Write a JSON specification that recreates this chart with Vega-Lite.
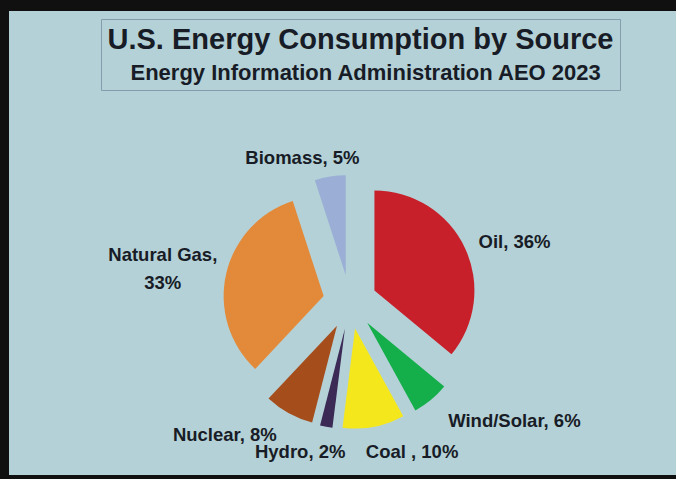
{
  "$schema": "https://vega.github.io/schema/vega-lite/v6.json",
  "background": "#101010",
  "padding": {"top": 11, "left": 9, "right": 0, "bottom": 4},
  "autosize": {"type": "none"},
  "width": 667,
  "height": 464,
  "view": {"fill": "#b4d1d7", "stroke": null},
  "config": {"font": "Liberation Sans"},
  "data": {
    "values": [
      {"source": "Oil", "pct": 36, "rank": 1, "label": "Oil, 36%"},
      {"source": "Wind/Solar", "pct": 6, "rank": 2, "label": "Wind/Solar, 6%"},
      {"source": "Coal", "pct": 10, "rank": 3, "label": "Coal , 10%"},
      {"source": "Hydro", "pct": 2, "rank": 4, "label": "Hydro, 2%"},
      {"source": "Nuclear", "pct": 8, "rank": 5, "label": "Nuclear, 8%"},
      {"source": "Natural Gas", "pct": 33, "rank": 6, "label": "Natural Gas,\n33%"},
      {"source": "Biomass", "pct": 5, "rank": 7, "label": "Biomass, 5%"}
    ]
  },
  "transform": [
    {"window": [{"op": "sum", "field": "pct", "as": "cum"}], "sort": [{"field": "rank", "order": "ascending"}], "frame": [null, 0]},
    {"calculate": "datum.cum - datum.pct", "as": "start"},
    {"calculate": "datum.cum - datum.pct / 2", "as": "mid"},
    {"calculate": "sin(2 * PI * datum.mid / 100)", "as": "ex"},
    {"calculate": "cos(2 * PI * datum.mid / 100)", "as": "ey"}
  ],
  "encoding": {
    "x": {"field": "ex", "type": "quantitative", "scale": {"domain": [-1, 1], "range": [314, 368], "nice": false, "zero": false}, "axis": null},
    "y": {"field": "ey", "type": "quantitative", "scale": {"domain": [-1, 1], "range": [318, 264], "nice": false, "zero": false}, "axis": null}
  },
  "layer": [
    {
      "mark": {"type": "arc", "outerRadius": 100, "innerRadius": 0, "stroke": null},
      "encoding": {
        "theta": {"field": "start", "type": "quantitative", "stack": null, "scale": {"domain": [0, 100]}},
        "theta2": {"field": "cum"},
        "color": {
          "field": "source", "type": "nominal",
          "scale": {
            "domain": ["Oil", "Wind/Solar", "Coal", "Hydro", "Nuclear", "Natural Gas", "Biomass"],
            "range": ["#c8202a", "#14ae4a", "#f4e81c", "#3a2a55", "#a54e1c", "#e38a3a", "#9aaed6"]
          },
          "legend": {
            "orient": "none", "legendX": 92, "legendY": 8,
            "title": "U.S. Energy Consumption by Source",
            "titleFont": "Liberation Sans", "titleFontSize": 29, "titleFontWeight": "bold", "titleColor": "#181c26",
            "titleAnchor": "middle", "titlePadding": 7, "titleLimit": 1000,
            "values": ["Oil"],
            "labelExpr": "'Energy Information Administration AEO 2023'",
            "labelFont": "Liberation Sans", "labelFontSize": 22, "labelFontWeight": "bold", "labelColor": "#181c26",
            "labelLimit": 1000, "labelOffset": -10,
            "symbolSize": 0, "symbolOpacity": 0, "symbolStrokeWidth": 0,
            "strokeColor": "#849cab", "padding": 6.5
          }
        }
      }
    },
    {
      "transform": [{"filter": "datum.source == 'Oil'"}],
      "mark": {"type": "text", "align": "left", "baseline": "middle", "radius": 115, "font": "Liberation Sans", "fontWeight": "bold", "fontSize": 18.5, "color": "#181c26"},
      "encoding": {"theta": {"field": "mid", "type": "quantitative", "stack": null, "scale": {"domain": [0, 100]}}, "text": {"field": "label"}}
    },
    {
      "transform": [{"filter": "datum.source == 'Wind/Solar'"}],
      "mark": {"type": "text", "align": "left", "baseline": "middle", "radius": 127, "font": "Liberation Sans", "fontWeight": "bold", "fontSize": 18.5, "color": "#181c26"},
      "encoding": {"theta": {"field": "mid", "type": "quantitative", "stack": null, "scale": {"domain": [0, 100]}}, "text": {"field": "label"}}
    },
    {
      "transform": [{"filter": "datum.source == 'Nuclear'"}],
      "mark": {"type": "text", "align": "right", "baseline": "middle", "radius": 125, "font": "Liberation Sans", "fontWeight": "bold", "fontSize": 18.5, "color": "#181c26"},
      "encoding": {"theta": {"field": "mid", "type": "quantitative", "stack": null, "scale": {"domain": [0, 100]}}, "text": {"field": "label"}}
    },
    {
      "transform": [{"filter": "datum.source == 'Natural Gas'"}],
      "mark": {"type": "text", "align": "center", "baseline": "middle", "radius": 166, "thetaOffset": 0.03, "lineBreak": "\n", "lineHeight": 28, "font": "Liberation Sans", "fontWeight": "bold", "fontSize": 18.5, "color": "#181c26"},
      "encoding": {"theta": {"field": "mid", "type": "quantitative", "stack": null, "scale": {"domain": [0, 100]}}, "text": {"field": "label"}}
    },
    {
      "transform": [{"filter": "datum.source == 'Coal'"}],
      "mark": {"type": "text", "align": "center", "baseline": "middle", "radius": 136, "thetaOffset": -0.244, "font": "Liberation Sans", "fontWeight": "bold", "fontSize": 18.5, "color": "#181c26"},
      "encoding": {"theta": {"field": "mid", "type": "quantitative", "stack": null, "scale": {"domain": [0, 100]}}, "text": {"field": "label"}}
    },
    {
      "transform": [{"filter": "datum.source == 'Hydro'"}],
      "mark": {"type": "text", "align": "center", "baseline": "middle", "radius": 131, "thetaOffset": 0.16, "font": "Liberation Sans", "fontWeight": "bold", "fontSize": 18.5, "color": "#181c26"},
      "encoding": {"theta": {"field": "mid", "type": "quantitative", "stack": null, "scale": {"domain": [0, 100]}}, "text": {"field": "label"}}
    },
    {
      "transform": [{"filter": "datum.source == 'Biomass'"}],
      "mark": {"type": "text", "align": "center", "baseline": "middle", "radius": 125, "thetaOffset": -0.197, "font": "Liberation Sans", "fontWeight": "bold", "fontSize": 18.5, "color": "#181c26"},
      "encoding": {"theta": {"field": "mid", "type": "quantitative", "stack": null, "scale": {"domain": [0, 100]}}, "text": {"field": "label"}}
    }
  ]
}
